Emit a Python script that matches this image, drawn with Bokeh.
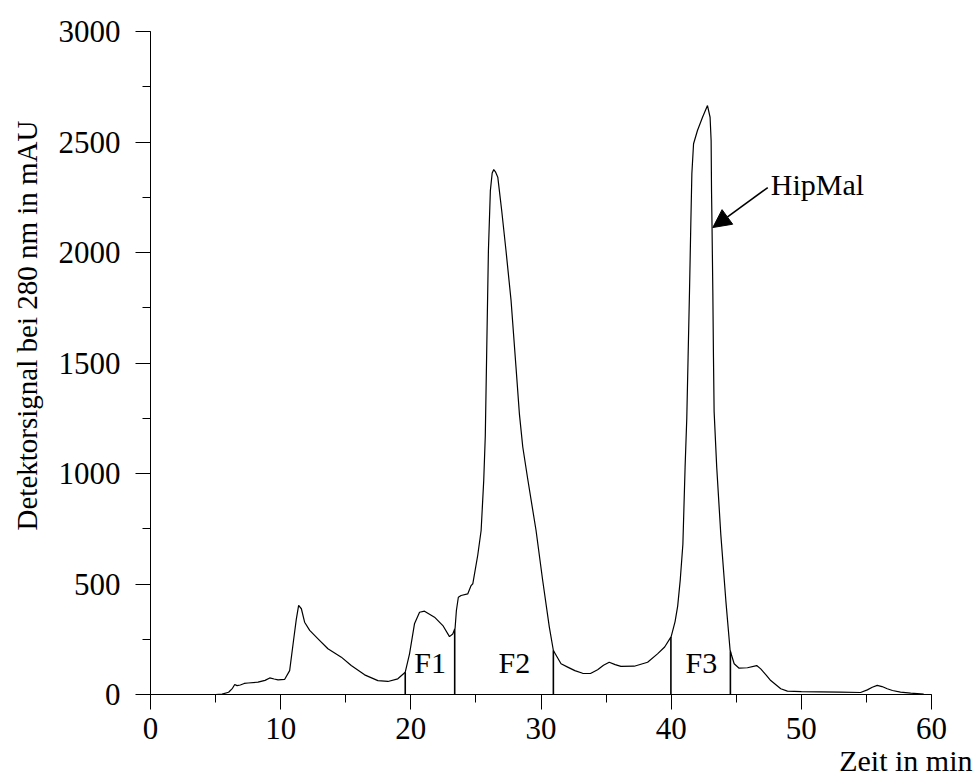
import numpy as np
from bokeh.plotting import figure
from bokeh.models import (Range1d, SingleIntervalTicker, Label, Arrow, NormalHead,
                          ColumnDataSource, Title)
from bokeh.core.properties import value
from bokeh.embed import file_html
from bokeh.resources import INLINE

# Chromatogram: retention time (min) and UV signal at 280 nm (mAU)
time_min = [0.85, 5.0, 5.5, 6.0, 6.3, 6.47, 6.65, 6.9, 7.2, 7.5, 8.26, 8.8, 9.16, 9.5,
            9.8, 10.3, 10.69, 11.02, 11.2, 11.38, 11.59, 11.84, 12.23, 12.87, 13.63,
            14.66, 15.42, 16.45, 17.47, 18.24, 19.0, 19.57, 19.9, 20.28, 20.67, 21.05,
            21.82, 22.46, 22.97, 23.22, 23.4, 23.5, 23.65, 23.86, 24.37, 24.63, 24.76,
            25.14, 25.4, 25.6, 25.72, 25.83, 25.96, 26.11, 26.25, 26.37, 26.5, 26.68,
            26.98, 27.31, 27.7, 28.08, 28.34, 28.6, 28.98, 29.62, 30.13, 30.64, 30.95,
            31.54, 32.05, 32.6, 33.2, 33.8, 34.35, 34.8, 35.24, 35.7, 36.14, 37.16,
            38.19, 38.95, 39.5, 40.0, 40.3, 40.5, 40.7, 40.9, 41.07, 41.2, 41.3, 41.41,
            41.51, 41.59, 41.72, 42.02, 42.41, 42.79, 42.99, 43.07, 43.1, 43.14, 43.2,
            43.25, 43.3, 43.5, 43.81, 44.2, 44.53, 44.84, 45.22, 45.86, 46.57, 46.88,
            47.3, 47.65, 48.42, 48.93, 50.0, 51.48, 53.0, 54.55, 55.07, 55.45, 55.83,
            56.2, 56.6, 57.0, 57.62, 58.4, 59.16, 59.4]
signal_mau = [0, 0, 2, 10, 28, 45, 40, 43, 50, 52, 56, 64, 75, 70,
              66, 68, 108, 259, 340, 403, 388, 327, 290, 252, 207,
              169, 131, 89, 63, 59, 71, 101, 184, 320, 372, 377,
              350, 312, 262, 274, 300, 380, 440, 448, 455, 493, 501,
              630, 742, 968, 1170, 1557, 2009, 2280, 2360, 2375, 2365, 2341,
              2190, 2009, 1783, 1481, 1270, 1120, 975, 742, 516, 305, 199,
              139, 124, 108, 96, 95, 112, 132, 146, 135, 127, 128,
              146, 184, 215, 262, 330, 400, 520, 680, 1028, 1250, 1526, 1828,
              2130, 2356, 2492, 2552, 2612, 2665, 2612, 2507, 2281, 2115, 1828,
              1526, 1280, 1028, 727, 425, 199, 139, 119, 121, 131, 116,
              88, 63, 26, 15, 13, 12, 11, 9, 21, 33, 41,
              36, 26, 18, 11, 6, 3, 2]

# Fraction boundaries (min) and fraction names
fraction_cuts = [19.57, 23.37, 30.95, 39.98, 44.55]
fraction_names = ["F1", "F2", "F3"]
fraction_label_x = [21.48, 27.96, 42.32]

x_ticks_interval = 10
y_ticks_interval = 500

FONT = "Liberation Serif"

p = figure(width=975, height=778, output_backend="svg", toolbar_location=None,
           x_range=Range1d(0, 60), y_range=Range1d(0, 3000),
           min_border_left=149, min_border_right=44, min_border_top=31,
           min_border_bottom=84)
p.outline_line_color = None
p.xgrid.visible = False
p.ygrid.visible = False
p.background_fill_color = "white"
p.border_fill_color = "white"

p.xaxis.ticker = SingleIntervalTicker(interval=x_ticks_interval, num_minor_ticks=2)
p.yaxis.ticker = SingleIntervalTicker(interval=y_ticks_interval, num_minor_ticks=2)
for ax in (p.xaxis, p.yaxis):
    ax.axis_line_color = "black"
    ax.axis_line_width = 1
    ax.major_tick_line_color = "black"
    ax.minor_tick_line_color = "black"
    ax.major_tick_in = 0
    ax.major_tick_out = 15
    ax.minor_tick_in = 0
    ax.minor_tick_out = 8
    ax.major_label_text_font = FONT
    ax.major_label_text_font_size = "31px"
    ax.major_label_text_color = "black"
p.xaxis.major_label_standoff = 8
p.yaxis.major_label_standoff = 15

# axis titles, placed in the side panels
p.add_layout(Title(text="Zeit in min", align="right", offset=-41, standoff=1,
                   vertical_align="bottom",
                   text_font=FONT, text_font_size="30px", text_font_style="normal",
                   text_color="black"), "below")
p.add_layout(Title(text="Detektorsignal bei 280 nm in mAU", align="right",
                   offset=89, standoff=21, vertical_align="top",
                   text_font=FONT, text_font_size="29px",
                   text_font_style="normal", text_color="black"), "left")

# chromatogram trace
p.line(time_min, signal_mau, line_color="black", line_width=1.2)

# fraction boundary markers drawn up to the trace
cut_heights = np.interp(fraction_cuts, time_min, signal_mau)
p.segment(x0=fraction_cuts, y0=[0] * len(fraction_cuts), x1=fraction_cuts,
          y1=list(cut_heights), line_color="black", line_width=1.6)

src = ColumnDataSource(dict(x=fraction_label_x, y=[145] * 3, t=fraction_names))
p.text(x="x", y="y", text="t", source=src, text_font=value(FONT),
       text_font_size=value("30px"), text_align="center", text_baseline="alphabetic",
       text_color="black")

# peak annotation
p.add_layout(Arrow(end=NormalHead(size=18, fill_color="black", line_color="black"),
                   x_start=47.42, y_start=2294, x_end=43.2, y_end=2113,
                   line_color="black", line_width=1.5))
p.add_layout(Label(x=47.65, y=2308, text="HipMal", text_font=FONT,
                   text_font_size="30px", text_color="black",
                   text_align="left", text_baseline="alphabetic"))

open("out.html", "w").write(file_html(p, INLINE))
